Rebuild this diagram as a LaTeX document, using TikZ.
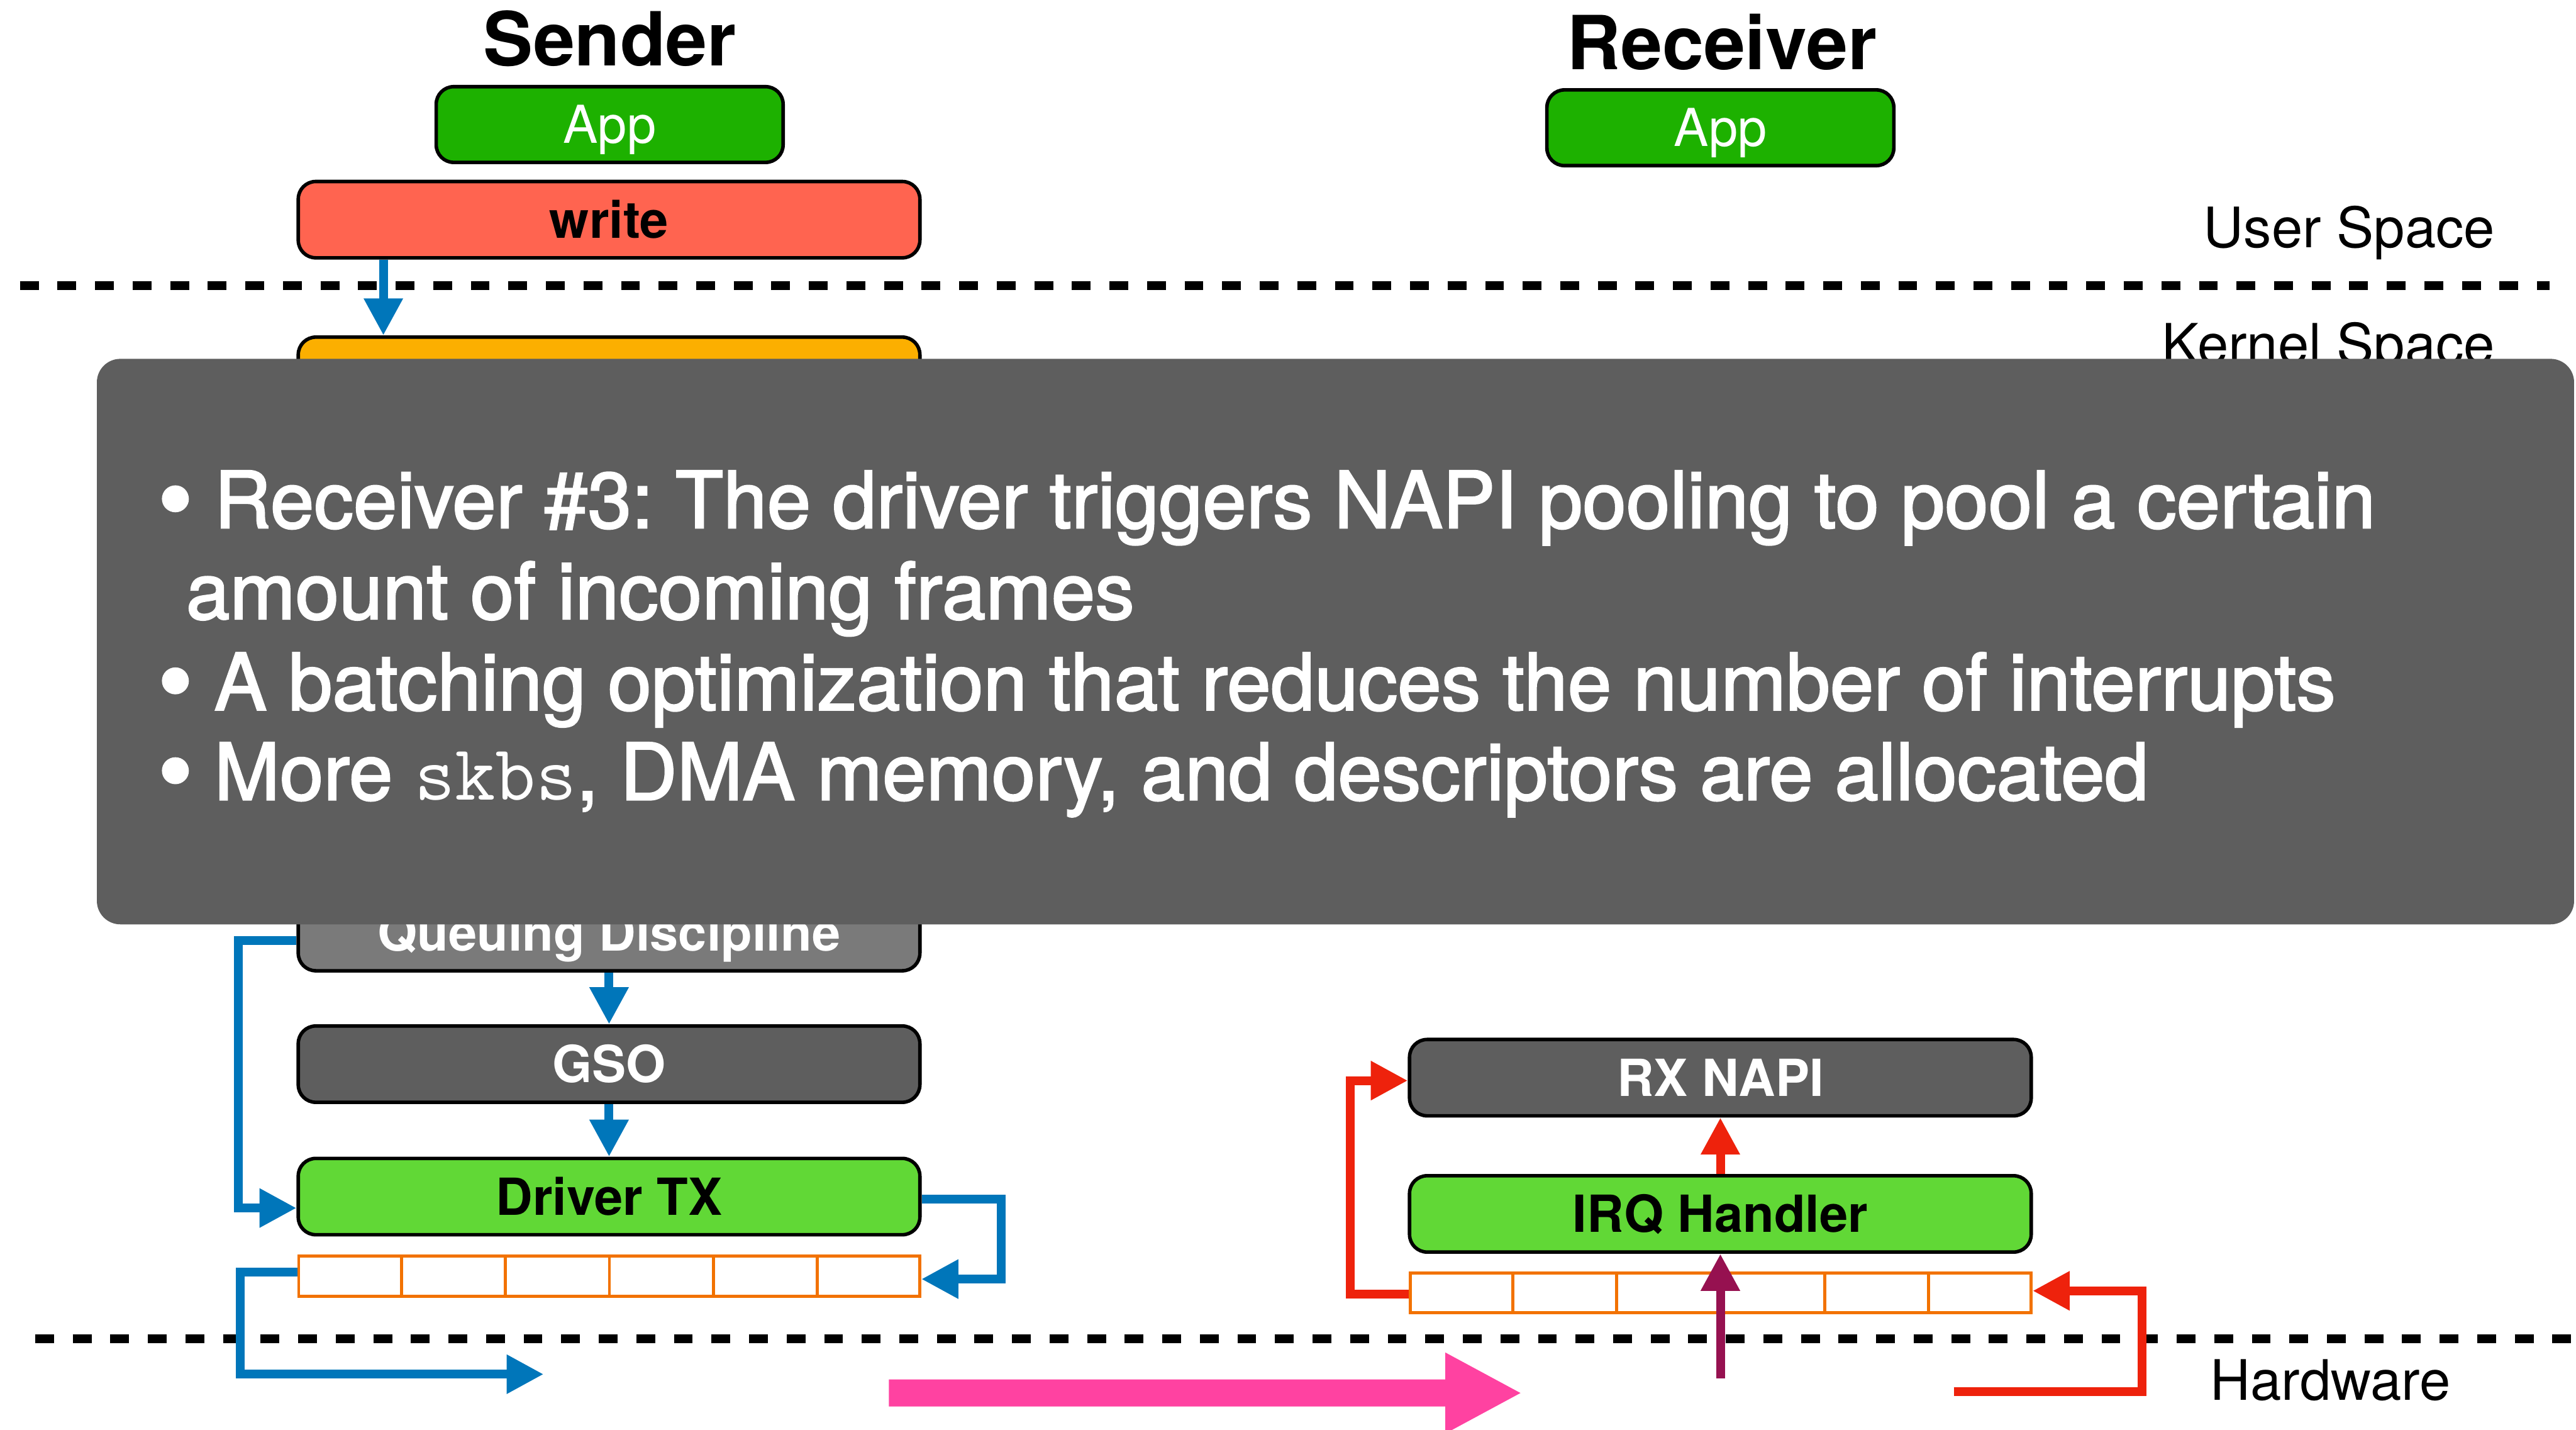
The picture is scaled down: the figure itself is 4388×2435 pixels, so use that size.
\documentclass[tikz,border=0pt]{standalone}
\usepackage{fontspec}
\setmainfont{TeX Gyre Heros}
\newfontfamily\notefont[FakeBold=2]{TeX Gyre Heros}
\usetikzlibrary{arrows.meta,calc}

\definecolor{appgreen}{HTML}{1DB100}
\definecolor{writered}{HTML}{FF6450}
\definecolor{sockorange}{HTML}{FCAF00}
\definecolor{qdgrey}{HTML}{7A7A7A}
\definecolor{darkgrey}{HTML}{5E5E5E}
\definecolor{drvgreen}{HTML}{61D836}
\definecolor{ringorange}{HTML}{F27200}
\definecolor{flowblue}{HTML}{0076BA}
\definecolor{flowred}{HTML}{EE220C}
\definecolor{irqmaroon}{HTML}{961150}
\definecolor{wirepink}{HTML}{FF42A1}
\definecolor{notegrey}{HTML}{5E5E5E}

\tikzset{
  stackbox/.style={draw=black, line width=0.6pt, rounded corners=3pt,
    minimum width=105.9pt, minimum height=13pt, inner sep=0pt,
    text height=6.25pt, text depth=0pt,
    font=\fontsize{8.7pt}{10pt}\selectfont\bfseries},
  appbox/.style={stackbox, minimum width=59.1pt, minimum height=12.9pt,
    fill=appgreen, text=white, text height=6.4pt,
    font=\fontsize{8.9pt}{10pt}\selectfont},
  ringbuf/.style={draw=ringorange, line width=0.5pt, minimum width=105.8pt,
    minimum height=6.8pt, inner sep=0pt},
  flow/.style={line width=1.5pt, -{Triangle[length=6.3pt,width=6.3pt]}},
  layerline/.style={line width=1.5pt, dash pattern=on 3.2pt off 3.2pt},
  titletext/.style={inner sep=0pt, anchor=base,
    font=\fontsize{12.7pt}{15pt}\selectfont\bfseries},
  layertext/.style={inner sep=0pt, font=\fontsize{9.5pt}{11pt}\selectfont},
  notetext/.style={text=white, inner sep=0pt, anchor=base west,
    font=\fontsize{13.4pt}{15.5pt}\notefont\frenchspacing},
  notebullet/.style={notetext, font=\fontsize{17pt}{20pt}\notefont},
}

\begin{document}
\begin{tikzpicture}[x=0.1pt, y=-0.1pt]
  \path[use as bounding box] (0,0) rectangle (4388,2435);
  \clip (0,0) rectangle (4388,2435);
  \fill[white] (0,0) rectangle (4388,2435);

  % column titles
  \node[titletext] (sendertitle) at (1039,112) {Sender};
  \node[titletext] (receivertitle) at (2933,118) {Receiver};

  % layer labels and separators
  \node[layertext, anchor=base east] (userspace) at (4252,422) {User Space};
  \node[layertext, anchor=base east] (kernelspace) at (4252,620) {Kernel Space};
  \node[layertext, anchor=base west] (hardware) at (3763,2384) {Hardware};
  \draw[layerline] (34,486) -- (4343,486);
  \draw[layerline] (60,2280) -- (4380,2280);

  % sender stack
  \node[appbox] (sapp) at (1038.5,212) {App};
  \node[stackbox, fill=writered] (write) at (1037.5,374) {write};
  \node[stackbox, fill=sockorange] (sock) at (1037.5,639) {};
  \node[stackbox, fill=qdgrey, text=white] (qdisc) at (1037.5,1588) {Queuing Discipline};
  \node[stackbox, fill=darkgrey, text=white] (gso) at (1037.5,1812) {GSO};
  \node[stackbox, fill=drvgreen] (drvtx) at (1037.5,2037.5) {Driver TX};
  \node[ringbuf] (txring) at (1038,2173) {};

  % receiver stack
  \node[appbox] (rapp) at (2930.5,217.5) {App};
  \node[stackbox, fill=darkgrey, text=white] (rxnapi) at (2930.5,1835) {RX NAPI};
  \node[stackbox, fill=drvgreen] (irq) at (2930.5,2067) {IRQ Handler};
  \node[ringbuf] (rxring) at (2931,2201.5) {};

  % ring descriptor cells
  \foreach \r in {txring,rxring}
    \foreach \k in {1,...,5}
      \draw[ringorange, line width=0.5pt]
        ($(\r.north west)!\k/6!(\r.north east)$) --
        ($(\r.south west)!\k/6!(\r.south east)$);

  % transmit path
  \draw[flow, flowblue] ([xshift=14.8pt]write.south west) -- ([xshift=14.8pt]sock.north west);
  \draw[flow, flowblue] (qdisc.south) -- (gso.north);
  \draw[flow, flowblue] (gso.south) -- (drvtx.north);
  \draw[flow, flowblue] ([yshift=-1.3pt]qdisc.west) -- ++(-9.9pt,0) |- ([yshift=-1.95pt]drvtx.west);
  \draw[flow, flowblue] ([yshift=-0.45pt]drvtx.east) -- ++(13.6pt,0) |- ([yshift=-0.5pt]txring.east);
  \coordinate (txwire) at (926,2340);
  \draw[flow, flowblue] ([yshift=0.7pt]txring.west) -- ++(-9.7pt,0) |- (txwire);

  % frames on the wire
  \fill[wirepink] (1514,2349) -- (2462,2349) -- (2462,2303) -- (2590,2372)
    -- (2462,2441) -- (2462,2395) -- (1514,2395) -- cycle;

  % receive path
  \draw[flow, flowred] (irq.north) -- (rxnapi.south);
  \draw[flow, flowred] ([yshift=-0.2pt]rxring.west) -- ++(-9.9pt,0) |- ([yshift=-0.5pt]rxnapi.west);
  \coordinate (rxwire) at (3328,2370);
  \draw[flow, flowred] (rxwire) -- ++(32.1pt,0) |- ([yshift=0.35pt]rxring.east);
  \coordinate (rxin) at (2930.5,2347);
  \draw[flow, irqmaroon] (rxin) -- (irq.south);

  % annotation panel
  \node[fill=notegrey, rounded corners=4pt, anchor=north west, inner sep=0pt,
        minimum width=422pt, minimum height=96.3pt] (note) at (163,609) {};
  \node[notebullet] (b1) at (267,908) {•};
  \node[notetext] (l1) at (363,899) {Receiver \#3: The driver triggers NAPI pooling to pool a certain};
  \node[notetext] (l2) at (315,1054) {amount of incoming frames};
  \node[notebullet] (b2) at (267,1218) {•};
  \node[notetext] (l3) at (363,1209) {A batching optimization that reduces the number of interrupts};
  \node[notebullet] (b3) at (267,1371) {•};
  \node[notetext] (l4) at (363,1362) {More {\ttfamily skbs}, DMA memory, and descriptors are allocated};
\end{tikzpicture}
\end{document}
